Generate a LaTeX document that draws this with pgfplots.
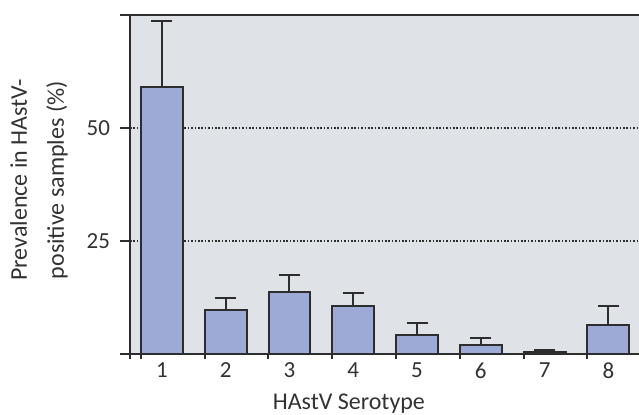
\documentclass[border=0pt]{standalone}
\usepackage{fontspec}
\setmainfont{Carlito}
\usepackage{pgfplots}
\pgfplotsset{compat=1.18}
\definecolor{bgc}{RGB}{223,226,231}
\definecolor{barc}{RGB}{157,170,214}
\definecolor{linec}{RGB}{45,45,45}
\definecolor{txt}{RGB}{50,50,50}
\begin{document}
\begin{tikzpicture}
\begin{axis}[
  scale only axis, width=254.5pt, height=169.5pt,
  xmin=0.5, xmax=8.48, ymin=0, ymax=75,
  axis x line=box, axis y line=left,
  x axis line style={-, line width=1pt, draw=linec},
  y axis line style={-, line width=1pt, draw=linec},
  axis background/.style={fill=bgc},
  xtick={1,2,3,4,5,6,7,8},
  minor xtick={0.5,0.671,1.671,2.671,3.671,4.671,5.671,6.671,7.671},
  ytick={0,25,50,75}, yticklabels={,25,50,},
  xtick pos=bottom, ytick pos=left,
  tick align=outside, major tick length=5pt, minor tick length=2.5pt,
  major x tick style={draw=none},
  minor x tick style={line width=1pt, draw=linec},
  ytick style={line width=1pt, draw=linec},
  ymajorgrids=true,
  major grid style={draw=linec, line width=0.9pt, dash pattern=on 0.8pt off 0.9pt},
  /pgf/number format/assume math mode=true,
  ticklabel style={font=\fontsize{11.5}{13}\selectfont, text=txt},
  xticklabel style={yshift=4pt},
  yticklabel style={xshift=-1.5pt},
  xlabel={HAstV Serotype},
  xlabel style={at={(axis description cs:0.43,0)}, anchor=center, yshift=-25pt, font=\fontsize{12}{14}\selectfont, text=txt},
  ylabel={Prevalence in HAstV-\\positive samples (\%)},
  ylabel style={at={(axis description cs:-0.179,0.513)}, anchor=center, align=center, font=\fontsize{12}{18.5}\selectfont, text=txt},
]
\addplot[ybar, bar width=0.657, fill=barc, draw=linec, line width=1pt,
  error bars/.cd, y dir=plus, y explicit,
  error bar style={line width=1pt, draw=linec},
  error mark options={rotate=90, line width=1pt, draw=linec, mark size=5.25pt}]
  table[x=x, y=y, y error=e] {
  x y e
  1 59.0 14.7
  2 9.7 2.8
  3 13.7 3.8
  4 10.6 2.8
  5 4.1 2.8
  6 1.9 1.6
  7 0.4 0.4
  8 6.4 4.2
  };
\coordinate (bl) at (rel axis cs:0,0);
\end{axis}
\pgfresetboundingbox
\path[use as bounding box] ([shift={(-65pt,-30pt)}]bl) rectangle ([shift={(254.5pt,177pt)}]bl);
\end{tikzpicture}
\end{document}
